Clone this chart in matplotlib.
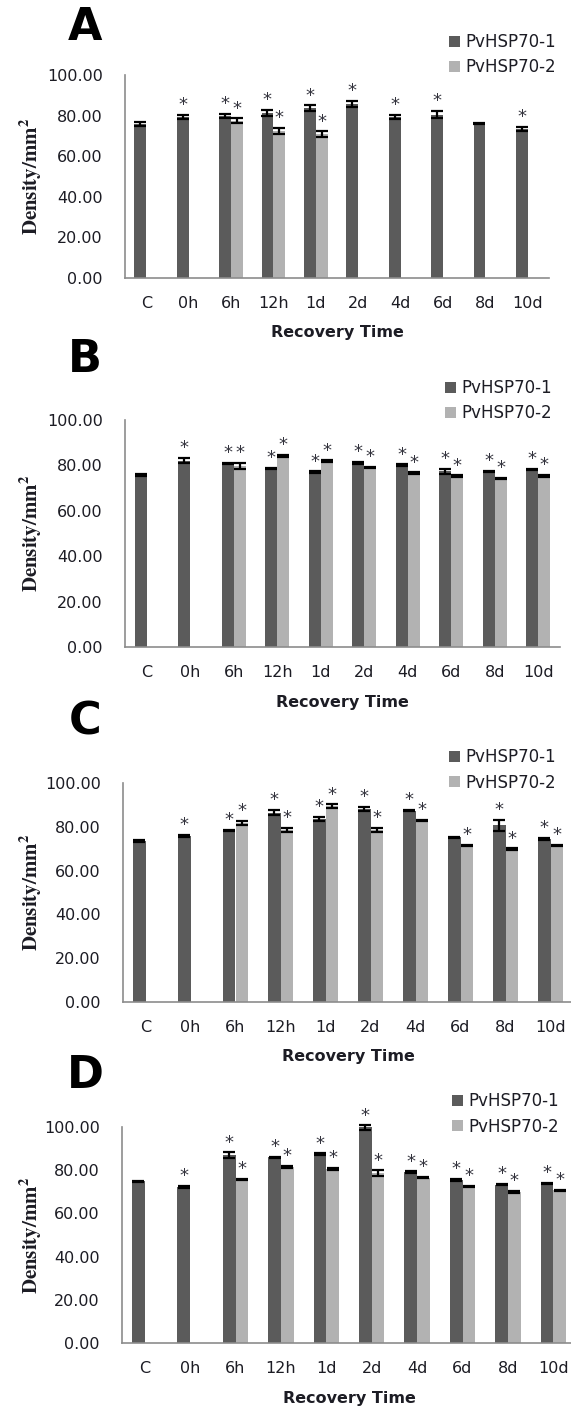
import matplotlib.pyplot as plt
import numpy as np
from matplotlib.patches import Patch

plt.rcParams['mathtext.fontset'] = 'stix'

W, H = 571, 1412

times = ['C', '0h', '6h', '12h', '1d', '2d', '4d', '6d', '8d', '10d']
series_names = ['PvHSP70-1', 'PvHSP70-2']
yticks = [0, 20, 40, 60, 80, 100]

# panel A
a_hsp1 = [75.9, 79.3, 80.0, 81.2, 83.6, 85.6, 79.3, 80.4, 76.1, 73.3]
a_hsp1_err = [0.8, 1.2, 1.0, 1.5, 1.5, 1.5, 1.0, 1.8, 0.3, 1.0]
a_hsp2 = [None, None, 77.5, 72.6, 70.8, None, None, None, None, None]
a_hsp2_err = [None, None, 1.2, 1.5, 1.5, None, None, None, None, None]
a_star1 = [0, 1, 1, 1, 1, 1, 1, 1, 0, 1]
a_star2 = [0, 0, 1, 1, 1, 0, 0, 0, 0, 0]

# panel B
b_hsp1 = [75.7, 82.1, 80.9, 78.6, 77.0, 81.2, 80.1, 77.4, 77.3, 78.2]
b_hsp1_err = [0.3, 1.2, 0.3, 0.3, 0.4, 0.4, 0.4, 1.0, 0.3, 0.4]
b_hsp2 = [None, None, 79.8, 84.2, 81.8, 79.2, 76.7, 75.2, 74.2, 75.4]
b_hsp2_err = [None, None, 1.2, 0.3, 0.4, 0.3, 0.3, 0.4, 0.3, 0.3]
b_star1 = [0, 1, 1, 1, 1, 1, 1, 1, 1, 1]
b_star2 = [0, 0, 1, 1, 1, 1, 1, 1, 1, 1]

# panel C
c_hsp1 = [73.5, 75.8, 78.5, 86.4, 83.6, 88.0, 87.4, 75.3, 80.6, 74.5]
c_hsp1_err = [0.4, 0.4, 0.2, 1.2, 1.0, 1.0, 0.4, 0.2, 2.5, 0.4]
c_hsp2 = [None, None, 81.8, 78.6, 89.5, 78.6, 82.9, 71.5, 69.7, 71.5]
c_hsp2_err = [None, None, 1.0, 1.0, 0.8, 0.8, 0.4, 0.3, 0.4, 0.3]
c_star1 = [0, 1, 1, 1, 1, 1, 1, 0, 1, 1]
c_star2 = [0, 0, 1, 1, 1, 1, 1, 1, 1, 1]

# panel D
d_hsp1 = [74.8, 72.2, 87.0, 85.9, 87.5, 99.8, 79.1, 75.6, 73.3, 73.7]
d_hsp1_err = [0.4, 0.4, 1.2, 0.4, 0.3, 1.0, 0.4, 0.4, 0.3, 0.3]
d_hsp2 = [None, None, 75.7, 81.5, 80.7, 78.7, 76.5, 72.6, 69.9, 70.7]
d_hsp2_err = [None, None, 0.3, 0.4, 0.4, 1.2, 0.3, 0.3, 0.4, 0.3]
d_star1 = [0, 1, 1, 1, 1, 1, 1, 1, 1, 1]
d_star2 = [0, 0, 1, 1, 1, 1, 1, 1, 1, 1]

DARK = '#5b5b5b'
LIGHT = '#b2b2b2'
TXT = '#1c1c24'
STAR = '#33333d'


def fx(px):
    return px / W


def fy(py):
    return 1 - py / H


fig = plt.figure(figsize=(W / 100, H / 100), dpi=100)

# (letter, left, right, top, bottom, letter_y, legend_x, legend_top) in pixels
layout = [
    ('A', 125, 549, 75, 278, 27, 449, 33),
    ('B', 125, 560, 420, 647, 360, 445, 379),
    ('C', 123, 573, 783, 1002, 722, 449, 748),
    ('D', 122, 576, 1127, 1343, 1076, 452, 1092),
]
panels = [
    (a_hsp1, a_hsp1_err, a_hsp2, a_hsp2_err, a_star1, a_star2),
    (b_hsp1, b_hsp1_err, b_hsp2, b_hsp2_err, b_star1, b_star2),
    (c_hsp1, c_hsp1_err, c_hsp2, c_hsp2_err, c_star1, c_star2),
    (d_hsp1, d_hsp1_err, d_hsp2, d_hsp2_err, d_star1, d_star2),
]

w = 0.28
x = np.arange(len(times))
ekw = dict(ecolor='black', elinewidth=1.6, capsize=4, capthick=1.6)


def star(ax, xpos, ypos):
    ax.annotate('*', (xpos, ypos), xytext=(0, 0.5), textcoords='offset points',
                ha='center', va='bottom', fontsize=13, color=STAR,
                annotation_clip=False)


for (letter, l, r, t, b, ly, lgx, lgt), (s1, e1, s2, e2, st1, st2) in zip(layout, panels):
    ax = fig.add_axes([fx(l), fy(b), (r - l) / W, (b - t) / H])

    bars1 = ax.bar(x - w / 2, s1, w, color=DARK, yerr=e1, error_kw=ekw, zorder=2)
    m = np.array([v is not None for v in s2])
    v2 = np.array([v for v in s2 if v is not None], dtype=float)
    err2 = np.array([v for v in e2 if v is not None], dtype=float)
    bars2 = ax.bar(x[m] + w / 2, v2, w, color=LIGHT, yerr=err2, error_kw=ekw, zorder=2)
    for cont in (bars1, bars2):
        for art in cont.errorbar.lines[1] + cont.errorbar.lines[2]:
            art.set_clip_on(False)

    # significance stars
    for i in range(len(times)):
        if st1[i]:
            star(ax, x[i] - w / 2, s1[i] + e1[i])
        if st2[i] and s2[i] is not None:
            star(ax, x[i] + w / 2, s2[i] + e2[i])

    ax.set_xlim(-0.5, len(times) - 0.5)
    ax.set_ylim(0, 100)
    ax.set_yticks(yticks)
    ax.set_yticklabels(['%.2f' % v for v in yticks])
    ax.set_xticks(x)
    ax.set_xticklabels(times)
    ax.tick_params(axis='y', length=0, pad=16, labelsize=11.5, labelcolor=TXT)
    ax.tick_params(axis='x', length=0, pad=13, labelsize=11.5, labelcolor=TXT)
    for side in ['top', 'right']:
        ax.spines[side].set_visible(False)
    for side in ['left', 'bottom']:
        ax.spines[side].set_color('#8c8c8c')
        ax.spines[side].set_linewidth(1.2)

    fig.text(fx((l + r) / 2), fy(b + 55), 'Recovery Time', ha='center', va='center',
             fontsize=11.5, fontweight='bold', color=TXT)
    fig.text(fx(31), fy((t + b) / 2), r'$\mathbf{Density/mm^2}$', rotation=90,
             ha='center', va='center', fontsize=15, color=TXT)
    fig.text(fx(85), fy(ly), letter, ha='center', va='center',
             fontsize=32, fontweight='bold', color='black')

    handles = [Patch(facecolor=DARK), Patch(facecolor=LIGHT)]
    ax.legend(handles, series_names, loc='upper left',
              bbox_to_anchor=(fx(lgx), fy(lgt)), bbox_transform=fig.transFigure,
              frameon=False, borderpad=0, borderaxespad=0, handlelength=0.65,
              handleheight=0.65, handletextpad=0.35, labelspacing=0.45,
              fontsize=12, labelcolor=TXT)

fig.savefig('out.png', dpi=100)
